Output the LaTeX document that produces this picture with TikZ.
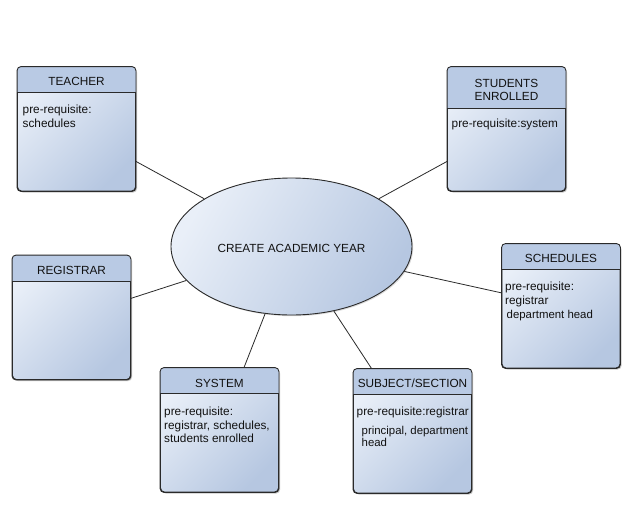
\documentclass[tikz,border=0pt]{standalone}
\usepackage{fontspec}
\setmainfont{Liberation Sans}
\usetikzlibrary{shapes.geometric,shadows,calc}
\definecolor{hdr}{HTML}{B9CAE4}
\definecolor{bodyA}{HTML}{E9EFF8}
\definecolor{bodyB}{HTML}{B6C7E1}
\definecolor{edgecol}{HTML}{2A2A2A}
\definecolor{txt}{HTML}{111111}
\tikzset{
  boxshape/.style={rectangle, rounded corners=4pt, minimum width=118pt, minimum height=124pt,
    inner sep=0pt, top color=bodyA, bottom color=bodyB, shading angle=45, draw=edgecol, line width=0.9pt,
    drop shadow={shadow xshift=1.6pt, shadow yshift=-1.6pt, opacity=0.3, fill=black!70}},
  edgeline/.style={draw=edgecol, line width=0.9pt},
  conn/.style={draw=edgecol, line width=0.8pt},
  ttl/.style={font=\fontsize{11.8}{13.5}\selectfont, text=txt, align=center, inner sep=0pt},
  bodytxt/.style={font=\fontsize{11.8}{13.5}\selectfont, text=txt, align=left, anchor=north west, inner sep=0pt},
  bodytxtb/.style={font=\fontsize{11.4}{12.2}\selectfont, text=txt, align=left, anchor=north west, inner sep=0pt},
}
\newcommand\umlbox[4]{%
  \node[boxshape] (#1) at (#2,#3) {};
  \begin{scope}
    \clip[rounded corners=4pt] (#1.south west) rectangle (#1.north east);
    \fill[hdr] (#1.north west) rectangle ($(#1.north east)+(0,#4)$);
  \end{scope}
  \draw[edgeline] ($(#1.north west)+(0,#4)$) -- ($(#1.north east)+(0,#4)$);
  \draw[edgeline, rounded corners=4pt] (#1.south west) rectangle (#1.north east);
}
\begin{document}
\begin{tikzpicture}[x=1pt, y=-1pt]
\useasboundingbox[fill=white] (0,0) rectangle (637,525);

% central ellipse
\node[ellipse, minimum width=241pt, minimum height=137pt, inner sep=0pt,
      top color=bodyA, bottom color=bodyB, shading angle=60, draw=edgecol, line width=0.9pt,
      drop shadow={shadow xshift=1.2pt, shadow yshift=-1.2pt, opacity=0.2, fill=black!70},
      font=\fontsize{11.8}{13.5}\selectfont, text=txt] (cay) at (291.5,246.5) {};
\node[ttl] (cayt) at (291.5,248) {CREATE ACADEMIC YEAR};

% boxes
\umlbox{teacher}{76.5}{129}{26}
\node[ttl] (teachert) at (76.5,81) {TEACHER};
\node[bodytxt] (teacherb) at (22.5,105) {pre-requisite:\\schedules};

\umlbox{students}{506.5}{129}{42}
\node[ttl] (studentst) at (506.5,90) {STUDENTS\\ENROLLED};
\node[bodytxt] (studentsb) at (451.5,118.5) {pre-requisite:system};

\umlbox{registrar}{71.5}{317.5}{26}
\node[ttl] (registrart) at (71.5,270) {REGISTRAR};

\umlbox{schedules}{561}{306}{26}
\node[ttl] (schedulest) at (561,258) {SCHEDULES};
\node[bodytxt] (schedulesb) at (505,282) {pre-requisite:\\registrar};
\node[bodytxtb] (schedulesc) at (506.5,310) {department head};

\umlbox{system}{219.5}{430}{26}
\node[ttl] (systemt) at (219.5,383) {SYSTEM};
\node[bodytxt] (systemb) at (164,407) {pre-requisite:\\registrar, schedules,\\students enrolled};

\umlbox{subject}{412.5}{431}{26}
\node[ttl] (subjectt) at (412.5,383) {SUBJECT/SECTION};
\node[bodytxt] (subjectb) at (356.5,407) {pre-requisite:registrar};
\node[bodytxtb] (subjectc) at (361.5,426) {principal, department\\head};

% connectors
\draw[conn] (cay) -- (teacher);
\draw[conn] (cay) -- (students);
\draw[conn] (cay) -- (registrar);
\draw[conn] (cay) -- (schedules);
\draw[conn] (cay) -- (system);
\draw[conn] (cay) -- (subject);
\end{tikzpicture}
\end{document}
